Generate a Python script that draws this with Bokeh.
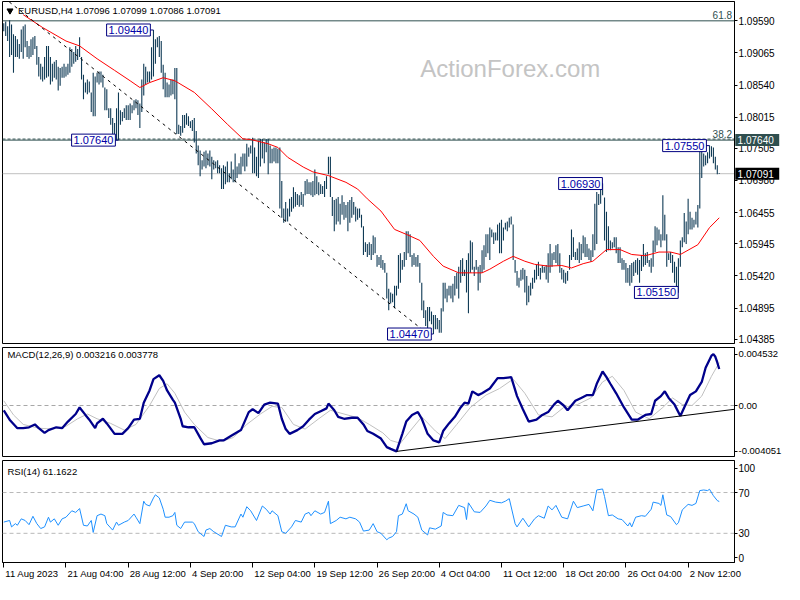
from bokeh.plotting import figure
from bokeh.models import (Range1d, FixedTicker, Span, Label, ColumnDataSource,
                          NumeralTickFormatter, CustomJSTickFormatter)
from bokeh.layouts import column
from bokeh.embed import file_html
from bokeh.resources import INLINE
from bokeh.core.properties import value

# ---------------- data ----------------
bar_high = [
    1.0955, 1.0958, 1.0950, 1.0960, 1.0953, 1.0937, 1.0934, 1.0929, 1.0921, 1.0945,
    1.0950, 1.0953, 1.0926, 1.0918, 1.0929, 1.0932, 1.0934, 1.0918, 1.0900, 1.0889,
    1.0884, 1.0900, 1.0918, 1.0918, 1.0900, 1.0889, 1.0892, 1.0895, 1.0884, 1.0882,
    1.0884, 1.0889, 1.0884, 1.0889, 1.0916, 1.0913, 1.0908, 1.0918, 1.0913, 1.0932,
    1.0900, 1.0871, 1.0858, 1.0863, 1.0860, 1.0842, 1.0874, 1.0868, 1.0874, 1.0876,
    1.0876, 1.0871, 1.0850, 1.0847, 1.0816, 1.0816, 1.0800, 1.0792, 1.0816, 1.0842,
    1.0813, 1.0810, 1.0816, 1.0821, 1.0821, 1.0824, 1.0821, 1.0829, 1.0831, 1.0829,
    1.0824, 1.0863, 1.0889, 1.0884, 1.0876, 1.0876, 1.0916, 1.0944, 1.0929, 1.0932,
    1.0934, 1.0926, 1.0887, 1.0874, 1.0858, 1.0855, 1.0863, 1.0863, 1.0882, 1.0882,
    1.0789, 1.0787, 1.0805, 1.0805, 1.0808, 1.0803, 1.0795, 1.0797, 1.0800, 1.0779,
    1.0755, 1.0747, 1.0731, 1.0745, 1.0747, 1.0742, 1.0747, 1.0737, 1.0731, 1.0729,
    1.0731, 1.0723, 1.0718, 1.0723, 1.0721, 1.0729, 1.0710, 1.0729, 1.0716, 1.0742,
    1.0721, 1.0726, 1.0737, 1.0742, 1.0742, 1.0758, 1.0752, 1.0755, 1.0768, 1.0752,
    1.0737, 1.0763, 1.0766, 1.0766, 1.0760, 1.0766, 1.0766, 1.0755, 1.0750, 1.0752,
    1.0752, 1.0750, 1.0752, 1.0697, 1.0652, 1.0663, 1.0652, 1.0668, 1.0671, 1.0687,
    1.0679, 1.0676, 1.0674, 1.0679, 1.0676, 1.0697, 1.0700, 1.0695, 1.0695, 1.0697,
    1.0716, 1.0705, 1.0695, 1.0692, 1.0689, 1.0697, 1.0705, 1.0737, 1.0737, 1.0671,
    1.0666, 1.0668, 1.0671, 1.0660, 1.0674, 1.0663, 1.0658, 1.0663, 1.0666, 1.0671,
    1.0663, 1.0655, 1.0652, 1.0652, 1.0642, 1.0623, 1.0597, 1.0594, 1.0597, 1.0594,
    1.0608, 1.0605, 1.0576, 1.0573, 1.0576, 1.0568, 1.0563, 1.0547, 1.0521, 1.0515,
    1.0513, 1.0526, 1.0526, 1.0576, 1.0579, 1.0568, 1.0581, 1.0615, 1.0615, 1.0610,
    1.0576, 1.0579, 1.0573, 1.0576, 1.0563, 1.0531, 1.0502, 1.0486, 1.0491, 1.0491,
    1.0484, 1.0478, 1.0478, 1.0473, 1.0470, 1.0489, 1.0531, 1.0531, 1.0521, 1.0526,
    1.0526, 1.0529, 1.0542, 1.0547, 1.0557, 1.0568, 1.0571, 1.0552, 1.0568, 1.0579,
    1.0600, 1.0597, 1.0557, 1.0568, 1.0557, 1.0560, 1.0584, 1.0592, 1.0610, 1.0610,
    1.0621, 1.0618, 1.0613, 1.0613, 1.0626, 1.0629, 1.0634, 1.0621, 1.0629, 1.0631,
    1.0637, 1.0639, 1.0626, 1.0568, 1.0550, 1.0539, 1.0552, 1.0555, 1.0552, 1.0542,
    1.0526, 1.0531, 1.0539, 1.0552, 1.0560, 1.0565, 1.0555, 1.0560, 1.0557, 1.0560,
    1.0579, 1.0594, 1.0579, 1.0581, 1.0592, 1.0594, 1.0579, 1.0555, 1.0552, 1.0547,
    1.0550, 1.0576, 1.0618, 1.0605, 1.0581, 1.0587, 1.0597, 1.0594, 1.0608, 1.0605,
    1.0594, 1.0587, 1.0584, 1.0610, 1.0660, 1.0679, 1.0676, 1.0684, 1.0693, 1.0670,
    1.0647, 1.0623, 1.0600, 1.0597, 1.0605, 1.0605, 1.0589, 1.0589, 1.0571, 1.0568,
    1.0563, 1.0555, 1.0560, 1.0563, 1.0565, 1.0568, 1.0571, 1.0568, 1.0576, 1.0594,
    1.0579, 1.0581, 1.0568, 1.0571, 1.0600, 1.0623, 1.0621, 1.0618, 1.0610, 1.0674,
    1.0642, 1.0610, 1.0579, 1.0581, 1.0576, 1.0565, 1.0557, 1.0571, 1.0600, 1.0605,
    1.0645, 1.0631, 1.0668, 1.0647, 1.0637, 1.0634, 1.0647, 1.0658, 1.0747, 1.0750,
    1.0742, 1.0739, 1.0744, 1.0755, 1.0754, 1.0752, 1.0737, 1.0723, 1.07099,
]
bar_low = [
    1.0942, 1.0934, 1.0926, 1.0900, 1.0903, 1.0874, 1.0900, 1.0900, 1.0897, 1.0908,
    1.0897, 1.0916, 1.0900, 1.0897, 1.0900, 1.0903, 1.0913, 1.0887, 1.0868, 1.0863,
    1.0860, 1.0863, 1.0866, 1.0868, 1.0855, 1.0860, 1.0866, 1.0863, 1.0845, 1.0853,
    1.0866, 1.0866, 1.0868, 1.0871, 1.0874, 1.0884, 1.0889, 1.0892, 1.0895, 1.0900,
    1.0863, 1.0831, 1.0842, 1.0839, 1.0842, 1.0810, 1.0803, 1.0803, 1.0858, 1.0855,
    1.0858, 1.0850, 1.0813, 1.0813, 1.0800, 1.0789, 1.0766, 1.0766, 1.0764, 1.0764,
    1.0789, 1.0795, 1.0800, 1.0797, 1.0797, 1.0797, 1.0808, 1.0813, 1.0816, 1.0805,
    1.0784, 1.0810, 1.0837, 1.0855, 1.0858, 1.0858, 1.0863, 1.0868, 1.0889, 1.0916,
    1.0900, 1.0874, 1.0847, 1.0834, 1.0834, 1.0834, 1.0837, 1.0839, 1.0831, 1.0774,
    1.0774, 1.0771, 1.0776, 1.0784, 1.0789, 1.0787, 1.0784, 1.0779, 1.0760, 1.0742,
    1.0723, 1.0705, 1.0716, 1.0721, 1.0718, 1.0723, 1.0721, 1.0700, 1.0716, 1.0718,
    1.0710, 1.0710, 1.0684, 1.0684, 1.0692, 1.0695, 1.0695, 1.0700, 1.0695, 1.0695,
    1.0702, 1.0708, 1.0708, 1.0721, 1.0713, 1.0721, 1.0737, 1.0742, 1.0710, 1.0710,
    1.0705, 1.0702, 1.0721, 1.0734, 1.0726, 1.0744, 1.0708, 1.0726, 1.0726, 1.0729,
    1.0726, 1.0726, 1.0652, 1.0637, 1.0629, 1.0631, 1.0631, 1.0639, 1.0647, 1.0652,
    1.0655, 1.0658, 1.0655, 1.0658, 1.0655, 1.0674, 1.0676, 1.0676, 1.0674, 1.0671,
    1.0674, 1.0676, 1.0674, 1.0676, 1.0676, 1.0671, 1.0684, 1.0708, 1.0671, 1.0640,
    1.0615, 1.0626, 1.0631, 1.0626, 1.0642, 1.0634, 1.0637, 1.0615, 1.0629, 1.0637,
    1.0642, 1.0631, 1.0634, 1.0637, 1.0621, 1.0576, 1.0581, 1.0573, 1.0576, 1.0568,
    1.0576, 1.0579, 1.0557, 1.0560, 1.0555, 1.0552, 1.0547, 1.0505, 1.0486, 1.0497,
    1.0499, 1.0489, 1.0510, 1.0521, 1.0531, 1.0552, 1.0557, 1.0568, 1.0579, 1.0573,
    1.0557, 1.0560, 1.0557, 1.0557, 1.0531, 1.0486, 1.0473, 1.0460, 1.0457, 1.0468,
    1.0463, 1.0447, 1.0455, 1.0455, 1.0449, 1.0449, 1.0484, 1.0505, 1.0499, 1.0510,
    1.0505, 1.0499, 1.0510, 1.0521, 1.0505, 1.0531, 1.0542, 1.0542, 1.0515, 1.0481,
    1.0547, 1.0552, 1.0542, 1.0552, 1.0518, 1.0531, 1.0547, 1.0552, 1.0573, 1.0579,
    1.0568, 1.0605, 1.0594, 1.0600, 1.0600, 1.0579, 1.0579, 1.0600, 1.0618, 1.0615,
    1.0621, 1.0626, 1.0568, 1.0547, 1.0526, 1.0523, 1.0534, 1.0536, 1.0515, 1.0494,
    1.0499, 1.0510, 1.0521, 1.0531, 1.0536, 1.0542, 1.0536, 1.0547, 1.0547, 1.0536,
    1.0531, 1.0547, 1.0557, 1.0568, 1.0563, 1.0560, 1.0547, 1.0536, 1.0531, 1.0529,
    1.0534, 1.0552, 1.0568, 1.0573, 1.0568, 1.0568, 1.0563, 1.0568, 1.0579, 1.0573,
    1.0573, 1.0568, 1.0565, 1.0573, 1.0584, 1.0594, 1.0658, 1.0660, 1.0674, 1.0600,
    1.0581, 1.0584, 1.0584, 1.0587, 1.0589, 1.0579, 1.0563, 1.0563, 1.0552, 1.0552,
    1.0531, 1.0531, 1.0526, 1.0531, 1.0542, 1.0547, 1.0544, 1.0531, 1.0550, 1.0557,
    1.0560, 1.0563, 1.0557, 1.0547, 1.0557, 1.0581, 1.0592, 1.0600, 1.0589, 1.0600,
    1.0600, 1.0557, 1.0568, 1.0563, 1.0547, 1.0531, 1.0520, 1.0515, 1.0557, 1.0589,
    1.0597, 1.0594, 1.0610, 1.0618, 1.0618, 1.0621, 1.0626, 1.0621, 1.0652, 1.0702,
    1.0721, 1.0723, 1.0726, 1.0734, 1.0737, 1.0726, 1.0716, 1.0708, 1.07086,
]
bar_idx = list(range(1, len(bar_high) + 1))

ma_idx = [11, 21, 33, 40, 49, 58, 66, 71, 76, 83, 89, 99, 108, 116, 124, 128, 137, 142,
          147, 155, 160, 168, 177, 183, 188, 195, 202, 208, 215, 222, 227, 235, 242, 247,
          251, 258, 263, 269, 274, 281, 288, 293, 299, 304, 311, 318, 324, 331, 338, 344,
          349, 358, 364, 369]
ma_val = [1.0969, 1.0948, 1.0926, 1.0918, 1.0897, 1.0878, 1.0861, 1.0850, 1.0858, 1.0866,
          1.0861, 1.0842, 1.0815, 1.0790, 1.0766, 1.0765, 1.0758, 1.0752, 1.0736, 1.0720,
          1.0712, 1.0706, 1.0695, 1.0684, 1.0668, 1.0648, 1.0618, 1.0610, 1.0600, 1.0574,
          1.0558, 1.0547, 1.0547, 1.0547, 1.0553, 1.0566, 1.0574, 1.0566, 1.0561, 1.0558,
          1.0559, 1.0555, 1.0562, 1.0566, 1.0585, 1.0585, 1.0577, 1.0575, 1.0581, 1.0581,
          1.0577, 1.0593, 1.0621, 1.0637]

trend_idx = [1, 218]
trend_val = [1.0997, 1.0450]

fib_levels = [1.0959, 1.0764]
fib_names = ["61.8", "38.2"]
last_price = 1.07091

swing_vals = [1.09440, 1.07640, 1.04470, 1.06930, 1.05150, 1.07550]
swing_label_right = [72.9, 54.9, 217.4, 305.4, 344.4, 358.9]
swing_bar = [78, 60, 222, 309, 348, 364]

price_ticks = [1.04385, 1.04895, 1.05420, 1.05945, 1.06455, 1.06980,
               1.07505, 1.08015, 1.08540, 1.09065, 1.09590]

tag_vals = [1.07640, 1.07091]
tag_texts = ["1.07640", "1.07091"]
tag_colors = ["#2f4f4f", "#000000"]

macd_idx = [1, 4, 8, 11, 14, 17, 19, 22, 24, 28,
            31, 34, 38, 40, 43, 45, 48, 49, 52, 54,
            58, 62, 65, 68, 71, 73, 76, 78, 81, 83,
            85, 88, 89, 92, 93, 96, 99, 102, 104, 108,
            112, 114, 118, 123, 127, 129, 132, 135, 138, 142,
            144, 146, 148, 152, 155, 158, 161, 164, 167, 168,
            171, 173, 176, 180, 183, 186, 188, 191, 195, 198,
            200, 203, 206, 208, 211, 214, 216, 219, 222, 225,
            227, 230, 233, 236, 238, 240, 242, 245, 247, 251,
            255, 258, 262, 265, 268, 271, 275, 278, 281, 284,
            286, 289, 291, 295, 298, 301, 304, 306, 309, 311,
            313, 316, 320, 324, 327, 331, 334, 336, 339, 341,
            343, 346, 349, 351, 354, 357, 360, 362, 365, 366,
            367, 368, 369]
macd_val = [-0.00042, -0.00125, -0.00200, -0.00200, -0.00192, -0.00167, -0.00200, -0.00242, -0.00217, -0.00192,
            -0.00200, -0.00142, -0.00075, -0.00017, -0.00083, -0.00125, -0.00200, -0.00158, -0.00117, -0.00158,
            -0.00250, -0.00250, -0.00200, -0.00125, -0.00117, 0.00025, 0.00133, 0.00233, 0.00267, 0.00217,
            0.00133, 0.00050, 0.00025, -0.00117, -0.00183, -0.00192, -0.00192, -0.00283, -0.00342, -0.00333,
            -0.00308, -0.00308, -0.00267, -0.00217, -0.00058, -0.00033, -0.00067, 0.00008, 0.00025, 0.00017,
            -0.00117, -0.00208, -0.00250, -0.00217, -0.00183, -0.00125, -0.00075, -0.00050, -0.00025, 0.00017,
            -0.00042, -0.00100, -0.00117, -0.00108, -0.00108, -0.00167, -0.00225, -0.00250, -0.00292, -0.00367,
            -0.00383, -0.00405, -0.00250, -0.00142, -0.00083, -0.00058, -0.00117, -0.00250, -0.00308, -0.00325,
            -0.00225, -0.00158, -0.00100, -0.00017, 0.00025, 0.00017, 0.00125, 0.00092, 0.00108, 0.00150,
            0.00242, 0.00242, 0.00250, 0.00083, -0.00033, -0.00142, -0.00125, -0.00083, -0.00058, 0.00008,
            0.00042, 0.00000, -0.00042, 0.00042, 0.00067, 0.00092, 0.00092, 0.00192, 0.00300, 0.00250,
            0.00192, 0.00108, -0.00017, -0.00125, -0.00125, -0.00083, -0.00075, 0.00042, 0.00083, 0.00125,
            0.00067, 0.00008, -0.00092, -0.00017, 0.00092, 0.00125, 0.00208, 0.00333, 0.00440, 0.00453,
            0.00430, 0.00380, 0.00322]

sig_idx = [1, 6, 11, 19, 26, 33, 39, 44, 49, 56,
           63, 69, 76, 81, 85, 89, 94, 99, 106, 113,
           119, 126, 133, 139, 144, 150, 156, 163, 169, 176,
           183, 189, 196, 200, 205, 210, 216, 223, 228, 234,
           241, 249, 256, 263, 269, 276, 283, 289, 296, 303,
           309, 314, 320, 326, 333, 340, 345, 350, 355, 360,
           365, 369]
sig_val = [0.00042, -0.00083, -0.00167, -0.00200, -0.00208, -0.00183, -0.00117, -0.00075, -0.00117, -0.00158,
           -0.00217, -0.00167, 0.00000, 0.00150, 0.00192, 0.00108, -0.00058, -0.00167, -0.00283, -0.00317,
           -0.00283, -0.00167, -0.00075, -0.00008, -0.00017, -0.00167, -0.00208, -0.00117, -0.00042, -0.00075,
           -0.00108, -0.00167, -0.00242, -0.00308, -0.00333, -0.00225, -0.00100, -0.00225, -0.00292, -0.00167,
           -0.00017, 0.00092, 0.00150, 0.00233, 0.00108, -0.00083, -0.00100, -0.00017, 0.00008, 0.00067,
           0.00208, 0.00258, 0.00133, -0.00058, -0.00117, -0.00017, 0.00067, 0.00008, 0.00000, 0.00083,
           0.00258, 0.00378]

macd_trend_idx = [203, 377]
macd_trend_val = [-0.00405, -0.00033]
macd_ticks = [-0.004051, 0.0, 0.004532]

rsi_idx = [1, 4, 5, 7, 8, 10, 12, 14, 16, 18,
           20, 22, 24, 25, 27, 29, 31, 33, 36, 38,
           40, 42, 44, 46, 47, 49, 51, 53, 54, 57,
           59, 60, 63, 65, 68, 69, 71, 73, 74, 76,
           78, 79, 81, 83, 84, 86, 88, 89, 90, 92,
           94, 98, 99, 101, 104, 105, 107, 109, 113, 115,
           118, 120, 123, 124, 126, 128, 131, 134, 136, 138,
           139, 142, 144, 146, 149, 151, 154, 156, 158, 159,
           161, 164, 166, 168, 169, 172, 174, 177, 179, 182,
           184, 186, 189, 191, 193, 195, 198,
           199, 201, 203, 204, 206, 208, 209, 212, 214, 216,
           219, 220, 223, 226, 227, 229, 232, 235, 238, 239,
           240, 243, 246, 249, 251, 254, 257, 259, 261, 264,
           265, 268, 271, 274, 276, 279, 281, 283, 285, 288,
           291, 294, 296, 299, 302, 304, 306, 309, 310, 312,
           314, 317, 319, 322, 323, 324, 326, 329, 331, 334,
           335, 338, 339, 340, 342, 344, 347, 348, 350, 353,
           355, 357, 359, 361, 363, 364, 366, 368, 369]
rsi_val = [41.0, 42.6, 36.3, 39.5, 37.9, 44.2, 42.6, 38.5, 46.7, 39.5,
           34.7, 36.3, 45.8, 41.0, 44.2, 37.9, 44.2, 45.8, 52.1, 50.5,
           54.3, 37.9, 37.2, 42.6, 30.9, 47.3, 48.9, 47.3, 39.5, 33.2,
           41.0, 37.9, 41.0, 42.6, 48.9, 45.8, 39.5, 61.5, 58.4, 56.8,
           64.7, 67.8, 64.7, 53.6, 45.8, 45.8, 47.3, 50.5, 37.9, 34.7,
           41.0, 41.0, 39.5, 31.6, 26.9, 33.2, 34.7, 31.6, 26.9, 37.9,
           36.3, 36.3, 48.9, 45.8, 56.1, 52.1, 42.6, 56.8, 53.6, 48.9,
           52.1, 47.3, 31.6, 30.0, 36.3, 42.6, 41.0, 48.9, 50.5, 47.3,
           52.1, 48.9, 50.5, 61.5, 39.5, 42.6, 45.8, 44.2, 45.8, 44.2,
           41.0, 32.2, 33.2, 39.5, 31.6, 30.0, 23.7,
           25.3, 26.9, 31.6, 47.3, 48.9, 59.0, 52.1, 48.9, 45.8, 33.2,
           28.4, 35.4, 34.1, 37.2, 50.5, 48.0, 47.3, 57.4, 55.2, 43.5,
           59.9, 51.1, 50.5, 56.8, 62.4, 60.6, 59.9, 61.5, 64.0, 39.5,
           36.3, 44.8, 36.3, 44.2, 47.3, 44.8, 56.8, 53.0, 57.4, 45.8,
           44.2, 61.5, 55.2, 56.8, 58.4, 52.1, 72.5, 73.5, 66.2, 47.3,
           48.0, 44.2, 43.5, 37.2, 40.4, 36.3, 45.8, 47.3, 46.7, 53.6,
           60.6, 59.3, 57.4, 67.8, 48.0, 46.4, 38.5, 40.4, 53.0, 58.4,
           57.4, 59.3, 71.9, 72.5, 71.9, 73.2, 66.9, 62.1, 61.16]
rsi_levels = [30, 70]

x_tick_idx = [1, 33, 65, 97, 129, 161, 193, 225, 257, 289, 321, 353]
x_tick_labels = ["11 Aug 2023", "21 Aug 04:00", "28 Aug 12:00", "4 Sep 20:00",
                 "12 Sep 04:00", "19 Sep 12:00", "26 Sep 20:00", "4 Oct 04:00",
                 "11 Oct 12:00", "18 Oct 20:00", "26 Oct 04:00", "2 Nov 12:00"]

# ---------------- styling ----------------
FONT = "Liberation Sans"
BAR = "#0f3a55"
SLATE = "#2f4f4f"
NAVY_TXT = "#0000a8"
NAVY = "#000080"
W = 784
BL, BR = 2, 42
X0, X1 = 0.35, 376.85

xr = Range1d(X0, X1)


def make_fig(h, y0, y1, top, bottom, xaxis=False, label_size="10px"):
    f = figure(width=W, height=h, x_range=xr, y_range=Range1d(y0, y1),
               output_backend="svg", toolbar_location=None,
               x_axis_location=("below" if xaxis else None), y_axis_location="right",
               min_border_left=BL, min_border_right=BR, min_border_top=top,
               min_border_bottom=bottom, background_fill_color="white",
               border_fill_color="white")
    f.grid.visible = False
    f.outline_line_color = "black"
    f.outline_line_width = 1
    ax = f.yaxis[0]
    ax.axis_line_color = "black"
    ax.major_tick_in = 0
    ax.major_tick_out = 3
    ax.minor_tick_line_color = None
    ax.major_label_text_font = FONT
    ax.major_label_text_font_size = label_size
    ax.major_label_standoff = 1
    ax.axis_label_standoff = 0
    ax.major_label_text_color = "black"
    return f


# ---------------- main price panel ----------------
p = make_fig(345, 1.04315, 1.09906, 1, 2)
p.yaxis[0].ticker = FixedTicker(ticks=price_ticks)
p.yaxis[0].formatter = NumeralTickFormatter(format="0.00000")

p.add_layout(Label(x=261.5, y=1.08816, text="ActionForex.com", text_align="center",
                   text_baseline="middle", text_font=FONT, text_font_size="24px",
                   text_color="#c4c4c4", level="underlay"))

p.add_layout(Span(location=last_price, dimension="width", line_color="#c0c0c0",
                  line_width=1, level="underlay"))
p.add_layout(Span(location=fib_levels[0], dimension="width", line_color=SLATE,
                  line_width=1, level="underlay"))
p.add_layout(Span(location=fib_levels[1], dimension="width", line_color=SLATE,
                  line_width=1, level="underlay"))
p.add_layout(Span(location=fib_levels[1] + 0.00017, dimension="width", line_color=SLATE,
                  line_width=1, line_dash="3 2", level="underlay"))
for lvl, name in zip(fib_levels, fib_names):
    p.add_layout(Label(x=375.6, y=lvl + 0.0003, text=name, text_align="right",
                       text_baseline="bottom", text_font=FONT, text_font_size="10px",
                       text_color=SLATE))

src = ColumnDataSource(dict(x=bar_idx, hi=bar_high, lo=bar_low))
p.segment(x0="x", y0="lo", x1="x", y1="hi", source=src, line_color=BAR, line_width=1.1)

p.line(ma_idx, ma_val, line_color="#ff0000", line_width=1)
p.line(trend_idx, trend_val, line_color="black", line_width=1, line_dash="3 4")

for v, xl, xb in zip(swing_vals, swing_label_right, swing_bar):
    p.segment(x0=[xl], y0=[v], x1=[xb], y1=[v], line_color=NAVY, line_width=1)
    p.add_layout(Label(x=xl + 3.5, y=v, text=f"{v:.5f}", text_align="right",
                       text_baseline="middle", text_font=FONT, text_font_size="11px",
                       text_color=NAVY_TXT, border_line_color=NAVY,
                       background_fill_color="white", padding=2))

p.scatter(x=[4.2], y=[1.09756], marker="inverted_triangle", size=6, color="black")
p.add_layout(Label(x=8.3, y=1.09756, text="EURUSD,H4  1.07096 1.07099 1.07086 1.07091",
                   text_align="left", text_baseline="middle", text_font=FONT,
                   text_font_size="9.5px", text_color="black"))

# price tags over the price scale (overlay level glyphs are drawn outside the frame)
tag_src = ColumnDataSource(dict(y=tag_vals, t=tag_texts, c=tag_colors,
                                top=[v + 0.00098 for v in tag_vals],
                                bot=[v - 0.00098 for v in tag_vals]))
p.quad(left=X1 + 0.4, right=X1 + 23.0, top="top", bottom="bot", fill_color="c",
       line_color=None, source=tag_src, level="overlay")
p.text(x=X1 + 1.6, y="y", text="t", text_align="left", text_baseline="middle",
       text_font=value(FONT), text_font_size="10px", text_color="white",
       source=tag_src, level="overlay")

# ---------------- MACD panel ----------------
m = make_fig(113, -0.00450, 0.00512, 2, 2, label_size="9.5px")
m.yaxis[0].ticker = FixedTicker(ticks=macd_ticks)
m.yaxis[0].formatter = CustomJSTickFormatter(
    code="return tick == 0 ? '0.00' : tick.toFixed(6);")
m.add_layout(Span(location=0, dimension="width", line_color="#a8a8a8",
                  line_width=1, line_dash="4 3", level="underlay"))
m.line(sig_idx, sig_val, line_color="#c0c0c0", line_width=1)
m.line(macd_idx, macd_val, line_color="#00008b", line_width=2.3)
m.line(macd_trend_idx, macd_trend_val, line_color="black", line_width=1)
m.add_layout(Label(x=2.9, y=0.0045, text="MACD(12,26,9) 0.003216 0.003778",
                   text_align="left", text_baseline="middle", text_font=FONT,
                   text_font_size="9.5px", text_color="black"))

# ---------------- RSI panel (with the time scale) ----------------
r = make_fig(126, 1.4, 101.4, 2, 22, xaxis=True)
r.yaxis[0].ticker = FixedTicker(ticks=[6.3, 30, 70, 93.7])
r.yaxis[0].formatter = CustomJSTickFormatter(
    code="if (tick < 10) return '0'; if (tick > 90) return '100'; return tick.toFixed(0);")
for lv in rsi_levels:
    r.add_layout(Span(location=lv, dimension="width", line_color="#b8b8b8",
                      line_width=1, line_dash="4 3", level="underlay"))
r.line(rsi_idx, rsi_val, line_color="#1e90ff", line_width=1)
r.add_layout(Label(x=2.9, y=91.0, text="RSI(14) 61.1622", text_align="left",
                   text_baseline="middle", text_font=FONT, text_font_size="9.5px",
                   text_color="black"))

xa = r.xaxis[0]
xa.ticker = FixedTicker(ticks=x_tick_idx)
xa.formatter = CustomJSTickFormatter(code="return '';")
xa.axis_line_color = "black"
xa.major_tick_in = 0
xa.major_tick_out = 5
xa.major_label_standoff = 0
xa.axis_label_standoff = 0
xa.minor_tick_line_color = None

# time labels: left-aligned just right of each tick mark, below the frame
tick_src = ColumnDataSource(dict(x=[ti + 0.8 for ti in x_tick_idx], t=x_tick_labels))
r.text(x="x", y=-3.6, text="t", text_align="left", text_baseline="top",
       text_font=value(FONT), text_font_size="9.5px", text_color="black",
       source=tick_src, level="overlay")

layout = column(p, m, r)
open("out.html", "w").write(file_html(layout, INLINE))
